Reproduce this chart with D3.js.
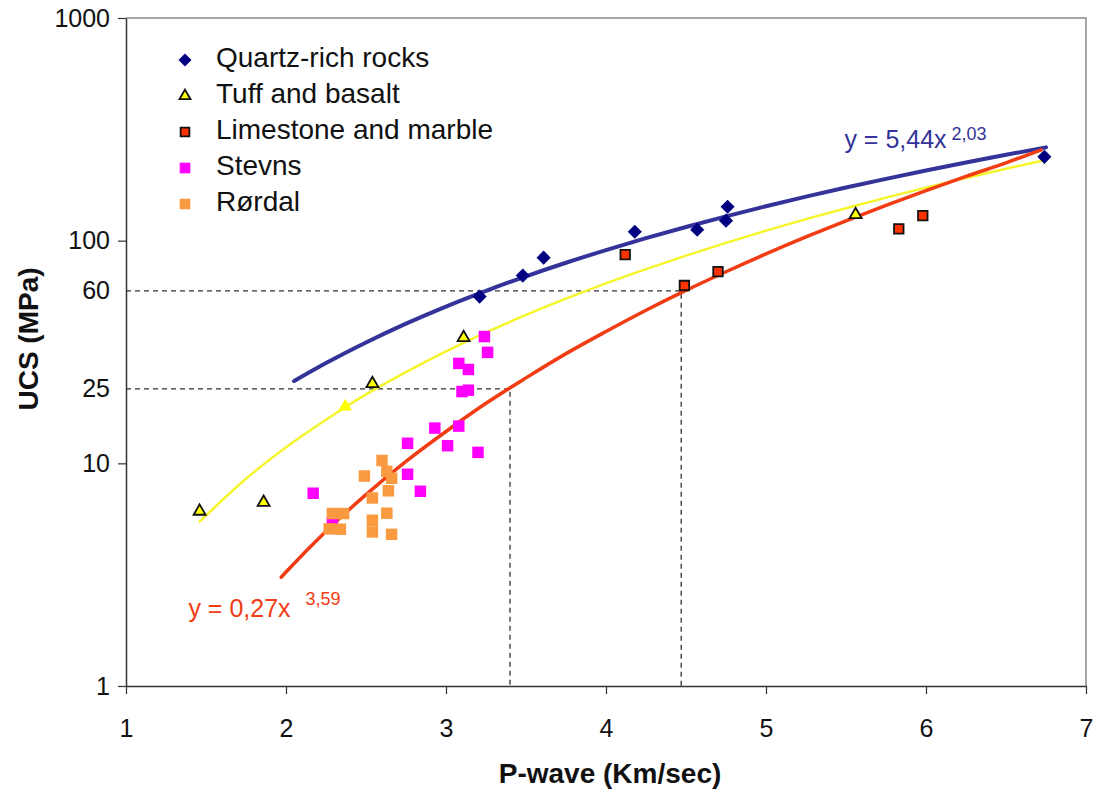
<!DOCTYPE html>
<html>
<head>
<meta charset="utf-8">
<script src="https://cdn.jsdelivr.net/npm/d3@7/dist/d3.min.js"></script>
<style>
  body { margin: 0; background: #fff; }
  svg { display: block; font-family: "Liberation Sans", Arial, sans-serif; }
</style>
</head>
<body>
<div id="chart"></div>
<script>

// Data (x = P-wave km/s, y = UCS MPa)
var quartz = [[3.21, 56.1], [3.48, 69.7], [3.61, 83.9], [4.18, 109.7], [4.57, 112], [4.75, 123], [4.76, 142], [6.74, 238]];
var tuff = [[1.46, 6.09], [1.86, 6.68], [2.54, 22.8], [3.11, 36.7], [5.56, 130.8]];
var tuffPlain = [[2.37, 18.0]];
var limestone = [[4.12, 86.5], [4.49, 62.9], [4.70, 72.6], [5.83, 113], [5.98, 129.5]];
var stevns = [[2.29, 5.44], [2.17, 7.34], [2.84, 7.49], [2.76, 8.93], [3.20, 11.2], [3.01, 12.0], [2.76, 12.3],
  [3.08, 14.7], [2.93, 14.4], [3.10, 21.0], [3.14, 21.3], [3.14, 26.4], [3.08, 28.1], [3.26, 31.5], [3.24, 37.1]];
var rordal = [[2.60, 10.3], [2.63, 9.21], [2.66, 8.57], [2.49, 8.77], [2.64, 7.53], [2.54, 6.99], [2.29, 5.95],
  [2.36, 5.95], [2.63, 5.97], [2.54, 5.55], [2.27, 5.08], [2.34, 5.06], [2.54, 4.92], [2.66, 4.80]];

// trend lines
var quartzFit = [[2.05, 23.4], [2.25, 28.2], [2.5, 34.9], [2.75, 42.4], [3.0, 50.6], [3.25, 59.5], [3.5, 69.2],
  [3.75, 79.6], [4.0, 90.7], [4.25, 102.6], [4.5, 115.2], [4.75, 128.6], [5.0, 142.7], [5.25, 157.6],
  [5.5, 173.2], [5.75, 189.5], [6.0, 206.7], [6.25, 224.5], [6.5, 243.1], [6.75, 262.4]];
var tuffFit = [[1.46, 5.47], [1.75, 8.52], [2.0, 11.8], [2.25, 15.7], [2.5, 20.4], [2.75, 25.7], [3.0, 31.8],
  [3.25, 38.7], [3.5, 46.4], [3.75, 54.9], [4.0, 64.3], [4.25, 74.5], [4.5, 85.7], [4.75, 97.8], [5.0, 110.9],
  [5.25, 124.9], [5.5, 139.9], [5.75, 156.0], [6.0, 173.1], [6.25, 191.3], [6.5, 210.5], [6.72, 228]];
var limestoneFit = [[1.97, 3.08], [2.0, 3.25], [2.25, 4.96], [2.5, 7.24], [2.75, 10.2], [3.0, 13.9], [3.25, 18.6],
  [3.5, 24.2], [3.75, 31.1], [4.0, 39.1], [4.25, 48.7], [4.5, 59.8], [4.75, 72.5], [5.0, 87.2], [5.25, 103.9],
  [5.5, 122.8], [5.75, 144.1], [6.0, 167.9], [6.25, 194.4], [6.5, 223.7], [6.72, 256]];

var xTicks = [1, 2, 3, 4, 5, 6, 7];
var yTicks = [1, 10, 100, 1000];
var guideX = [3.4, 4.47];
var guideY = [21.6, 59.5];
var guideLabels = ['25', '60'];

var legendLabels = ['Quartz-rich rocks', 'Tuff and basalt', 'Limestone and marble', 'Stevns', 'Rørdal'];
var eqText = ['y = 5,44x', 'y = 0,27x'];
var eqPower = ['2,03', '3,59'];
var eqAnchor = [[5.49, 261], [1.39, 2.04]];

var COLORS = {
  quartz: '#000080',
  quartzFit: '#333399',
  tuff: '#ffff00',
  tuffFit: '#f5f52a',
  limestone: '#ff3300',
  limestoneFit: '#f23c14',
  stevns: '#ff00ff',
  rordal: '#fa9a40'
};

var W = 1096, H = 796;
var margin = [18, 10, 110, 126];
var innerWidth = W - margin[1] - margin[3];
var innerHeight = H - margin[0] - margin[2];

function translate(x, y) {
  return 'translate(' + x + ',' + y + ')';
}

var svg = d3.select('#chart').append('svg')
  .attr('width', W)
  .attr('height', H);

svg.append('rect').attr('width', W).attr('height', H).attr('fill', '#fff');

var g = svg.append('g').attr('transform', translate(margin[3], margin[0]));

var x = d3.scaleLinear().domain([1, 7]).range([0, innerWidth]);
var y = d3.scaleLog().domain([1, 1000]).range([innerHeight, 0]);

// frame (top and right)
g.append('path')
  .attr('d', 'M0,0H' + innerWidth + 'V' + innerHeight)
  .attr('fill', 'none')
  .attr('stroke', '#8a8a8a')
  .attr('stroke-width', 1.5);

// dashed read-off lines
var guides = g.append('g').attr('class', 'guides');
guideX.forEach(function(gx, i) {
  guides.append('path')
    .attr('d', 'M' + x(1) + ',' + y(guideY[i]) + 'H' + x(gx) + 'V' + y(1))
    .attr('fill', 'none')
    .attr('stroke', '#333')
    .attr('stroke-width', 1.3)
    .attr('stroke-dasharray', '5,4');
});

// axes
var xAxis = g.append('g')
  .attr('transform', translate(0, innerHeight))
  .call(d3.axisBottom(x).tickValues(xTicks).tickSize(8).tickSizeOuter(0).tickPadding(25).tickFormat(d3.format('d')));

var yAxis = g.append('g')
  .call(d3.axisLeft(y).tickValues(yTicks).tickSize(8).tickSizeOuter(0).tickPadding(8).tickFormat(d3.format('d')));

var yGuideAxis = g.append('g')
  .call(d3.axisLeft(y).tickValues(guideY).tickSize(0).tickPadding(16).tickFormat(function(d, i) {
    return guideLabels[i];
  }));
yGuideAxis.select('.domain').remove();

[xAxis, yAxis, yGuideAxis].forEach(function(a) {
  a.attr('font-family', null).attr('font-size', null);
  a.selectAll('.domain').attr('stroke', '#333').attr('stroke-width', 1.5);
  a.selectAll('.tick line').attr('stroke', '#333').attr('stroke-width', 1.2);
  a.selectAll('.tick text').attr('fill', '#111').style('font-size', '25px');
});

// trend lines
var line = d3.line()
  .x(function(d) { return x(d[0]); })
  .y(function(d) { return y(d[1]); })
  .curve(d3.curveMonotoneX);

var fits = [
  { data: tuffFit, color: COLORS.tuffFit, width: 2.5 },
  { data: quartzFit, color: COLORS.quartzFit, width: 4 },
  { data: limestoneFit, color: COLORS.limestoneFit, width: 3.5 }
];

g.append('g').selectAll('path')
    .data(fits)
  .enter().append('path')
  .attr('d', function(d) { return line(d.data); })
  .attr('fill', 'none')
  .attr('stroke', function(d) { return d.color; })
  .attr('stroke-width', function(d) { return d.width; })
  .attr('stroke-linecap', 'round');

// series (drawn in this order so orange sits over magenta)
var series = [
  { label: legendLabels[3], data: stevns, type: d3.symbolSquare, size: 132, fill: COLORS.stevns, stroke: 'none', rotate: 0 },
  { label: legendLabels[4], data: rordal, type: d3.symbolSquare, size: 132, fill: COLORS.rordal, stroke: 'none', rotate: 0 },
  { label: legendLabels[2], data: limestone, type: d3.symbolSquare, size: 90, fill: COLORS.limestone, stroke: '#111', rotate: 0 },
  { label: legendLabels[0], data: quartz, type: d3.symbolSquare, size: 100, fill: COLORS.quartz, stroke: 'none', rotate: 45 },
  { label: legendLabels[1], data: tuff, type: d3.symbolTriangle, size: 62, fill: COLORS.tuff, stroke: '#111', rotate: 0 },
  { label: '', data: tuffPlain, type: d3.symbolTriangle, size: 80, fill: COLORS.tuff, stroke: 'none', rotate: 0 }
];

series.forEach(function(s) {
  g.append('g').selectAll('path')
      .data(s.data)
    .enter().append('path')
    .attr('transform', function(d) {
      return translate(x(d[0]), y(d[1])) + ' rotate(' + s.rotate + ')';
    })
    .attr('d', d3.symbol().type(s.type).size(s.size))
    .attr('fill', s.fill)
    .attr('stroke', s.stroke)
    .attr('stroke-width', 1.8);
});

// fit equations
var eqColors = [COLORS.quartzFit, COLORS.limestoneFit];
var eqDx = [5, 15];
var eqDy = [-8, -12];
eqText.forEach(function(t, i) {
  var txt = g.append('text')
    .attr('x', x(eqAnchor[i][0]))
    .attr('y', y(eqAnchor[i][1]))
    .attr('fill', eqColors[i])
    .style('font-size', '25px');
  txt.append('tspan').text(t);
  txt.append('tspan')
    .attr('dx', eqDx[i])
    .attr('dy', eqDy[i])
    .style('font-size', '18px')
    .text(eqPower[i]);
});

// legend
var rows = legendLabels.map(function(l) {
  return series.filter(function(s) { return s.label === l; })[0];
});

var legend = svg.append('g').attr('transform', translate(185, 60));

var row = legend.selectAll('g')
    .data(rows)
  .enter().append('g')
  .attr('transform', function(d, i) { return translate(0, i * 36); });

row.append('path')
  .attr('transform', function(d) { return 'rotate(' + d.rotate + ')'; })
  .attr('d', function(d) { return d3.symbol().type(d.type).size(d.size * 0.85)(); })
  .attr('fill', function(d) { return d.fill; })
  .attr('stroke', function(d) { return d.stroke; })
  .attr('stroke-width', 1.8);

row.append('text')
  .attr('x', 31)
  .attr('y', 7)
  .attr('fill', '#111')
  .style('font-size', '28px')
  .text(function(d) { return d.label; });

// axis titles
svg.append('text')
  .attr('transform', translate(610, 783))
  .attr('text-anchor', 'middle')
  .style('font-size', '28px')
  .style('font-weight', 'bold')
  .attr('fill', '#111')
  .text('P-wave (Km/sec)');

svg.append('text')
  .attr('transform', translate(38, 339) + ' rotate(-90)')
  .attr('text-anchor', 'middle')
  .style('font-size', '28px')
  .style('font-weight', 'bold')
  .attr('fill', '#111')
  .text('UCS (MPa)');

</script>
</body>
</html>
